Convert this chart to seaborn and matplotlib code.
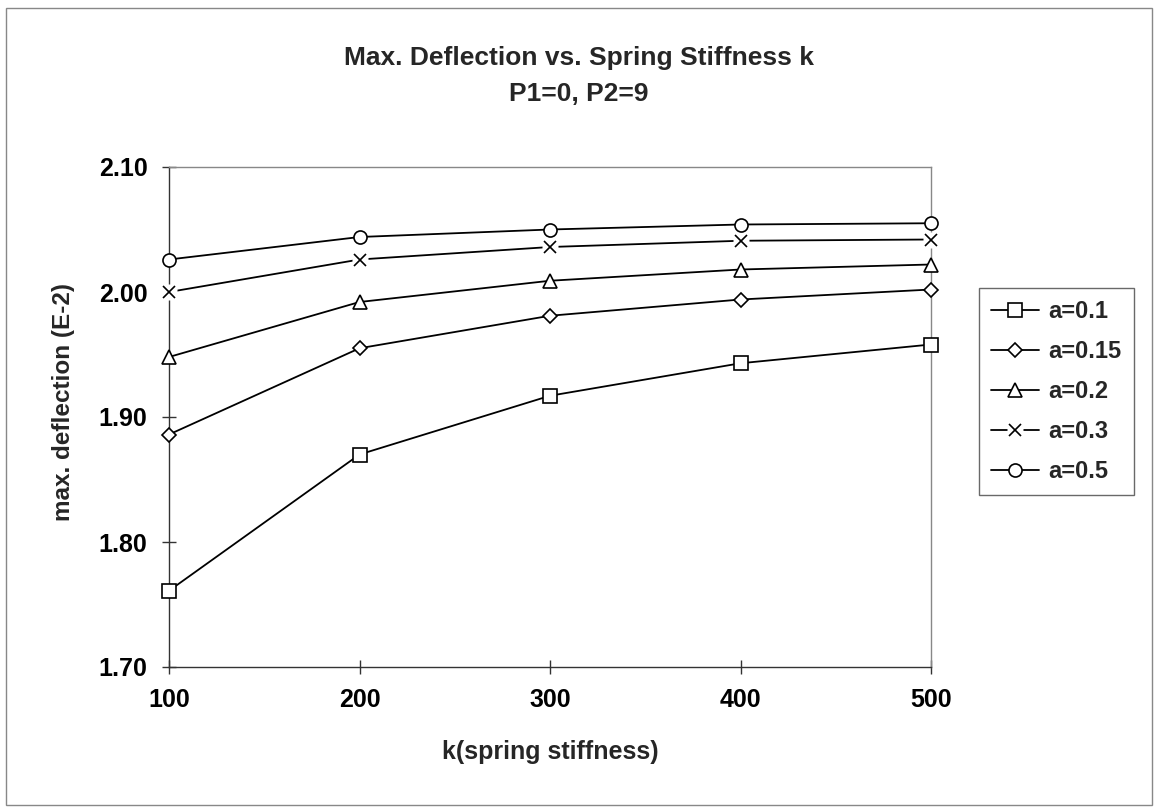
import numpy as np
import pandas as pd
import matplotlib
matplotlib.use("Agg")
import matplotlib.pyplot as plt
import seaborn as sns
from matplotlib.lines import Line2D
from matplotlib.legend_handler import HandlerTuple
from matplotlib.patches import Rectangle

# ---- data ----
k_values = [100, 200, 300, 400, 500]
a_labels = ["a=0.1", "a=0.15", "a=0.2", "a=0.3", "a=0.5"]
defl_a010 = [1.761, 1.870, 1.917, 1.943, 1.958]
defl_a015 = [1.886, 1.955, 1.981, 1.994, 2.002]
defl_a020 = [1.948, 1.992, 2.009, 2.018, 2.022]
defl_a030 = [2.000, 2.026, 2.036, 2.041, 2.042]
defl_a050 = [2.026, 2.044, 2.050, 2.054, 2.055]
y_ticks = [1.70, 1.80, 1.90, 2.00, 2.10]
x_ticks = [100, 200, 300, 400, 500]

series = [defl_a010, defl_a015, defl_a020, defl_a030, defl_a050]
marker_list = ["s", "D", "^", "x", "o"]
marker_sizes = [9.4, 6.7, 9.6, 9.0, 9.4]

df = pd.DataFrame({
    "k": k_values * len(series),
    "defl": [v for s in series for v in s],
    "a": [lab for lab in a_labels for _ in k_values],
})

sns.set_theme(style="white")
plt.rcParams["font.family"] = ["Liberation Sans", "DejaVu Sans"]
plt.rcParams["font.weight"] = "bold"

fig = plt.figure(figsize=(11.58, 8.10), dpi=100)
ax = fig.add_axes([169 / 1158, 1 - 667 / 810, (931 - 169) / 1158, (667 - 167) / 810])

handles = []
for lab, m, ms in zip(a_labels, marker_list, marker_sizes):
    sub = df[df["a"] == lab]
    sns.lineplot(data=sub, x="k", y="defl", color="black", linewidth=1.3,
                 marker=m, markersize=ms, markerfacecolor="white",
                 markeredgecolor="black", markeredgewidth=1.2,
                 ax=ax, legend=False, zorder=3, clip_on=False)
    if m == "x":
        # Excel draws the X marker on an opaque white background
        sns.lineplot(data=sub, x="k", y="defl", linestyle="none", marker="s",
                     markersize=ms + 2, markerfacecolor="white",
                     markeredgecolor="none", ax=ax, legend=False, zorder=4,
                     clip_on=False)
        sns.lineplot(data=sub, x="k", y="defl", linestyle="none", marker="x",
                     markersize=ms, markeredgecolor="black",
                     markeredgewidth=1.2, ax=ax, legend=False, zorder=5,
                     clip_on=False)
        h = (Line2D([], [], color="black", lw=1.3),
             Line2D([], [], ls="none", marker="s", ms=ms + 2, mfc="white", mec="none"),
             Line2D([], [], ls="none", marker="x", ms=ms, mec="black", mew=1.2))
    else:
        h = Line2D([], [], color="black", lw=1.3, marker=m, ms=ms,
                   mfc="white", mec="black", mew=1.2)
    handles.append(h)

ax.set_xlim(100, 500)
ax.set_ylim(1.70, 2.10)
ax.set_xticks(x_ticks)
ax.set_yticks(y_ticks)
ax.set_xticklabels([str(v) for v in x_ticks])
ax.set_yticklabels([f"{v:.2f}" for v in y_ticks])
ax.tick_params(axis="both", direction="inout", length=10, width=1.0,
               color="#333333", labelsize=18, labelcolor="black",
               bottom=True, left=True, top=False, right=False)
ax.tick_params(axis="x", pad=10)
ax.tick_params(axis="y", pad=10.5)
ax.grid(False)

for side in ["left", "bottom"]:
    ax.spines[side].set_color("#333333")
    ax.spines[side].set_linewidth(1.0)
for side in ["top", "right"]:
    ax.spines[side].set_color("#888888")
    ax.spines[side].set_linewidth(1.0)

ax.set_xlabel("k(spring stiffness)", fontsize=18, fontweight="bold")
ax.set_ylabel("max. deflection (E-2)", fontsize=17.5, fontweight="bold")
ax.xaxis.set_label_coords(0.5, -0.146)
ax.yaxis.set_label_coords(-0.1234, 0.53)

fig.text(0.5, 1 - 58 / 810, "Max. Deflection vs. Spring Stiffness k",
         ha="center", va="center", fontsize=19, fontweight="bold")
fig.text(0.5, 1 - 94 / 810, "P1=0, P2=9",
         ha="center", va="center", fontsize=19, fontweight="bold")

leg = fig.legend(handles, a_labels, loc="upper left",
                 bbox_to_anchor=(979 / 1158, 1 - 288 / 810),
                 bbox_transform=fig.transFigure, borderaxespad=0,
                 fontsize=17, frameon=True, fancybox=False,
                 handlelength=2.05, handletextpad=0.4, labelspacing=0.72,
                 borderpad=0.5, handler_map={tuple: HandlerTuple(ndivide=1)})
leg.get_frame().set_edgecolor("#444444")
leg.get_frame().set_linewidth(1.0)
for t in leg.get_texts():
    t.set_fontweight("bold")

fig.patches.append(Rectangle((6 / 1158, 5 / 810), 1 - 12 / 1158, 1 - 13 / 810,
                             transform=fig.transFigure, fill=False,
                             edgecolor="#888888", linewidth=1.0))

fig.savefig("out.png", dpi=100, facecolor="white")
